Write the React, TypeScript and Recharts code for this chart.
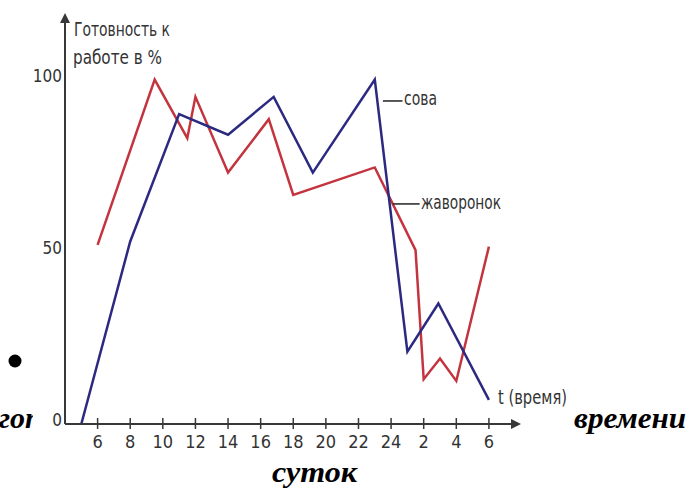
import { LineChart, Line, XAxis, YAxis, ReferenceLine } from "recharts";

// hours of the day; values past 24 are the next morning (26 = 2, 28 = 4, 30 = 6)
const hourTicks = [6, 8, 10, 12, 14, 16, 18, 20, 22, 24, 26, 28, 30];
const valueTicks = [0, 50, 100];

// "жаворонок" (red)
const larkHours = [6, 9.5, 11.5, 12, 14, 16.5, 18, 23, 25.5, 26, 27, 28, 30];
const larkValues = [52, 100, 83, 95, 73, 88.5, 66.5, 74.5, 50.5, 13, 19, 12.5, 51.5];

// "сова" (blue)
const owlHours = [5, 8, 11, 14, 16.8, 19.2, 23, 25, 26.9, 30];
const owlValues = [0, 53, 90, 84, 95, 73, 100, 21, 35, 7];

const larkData = larkHours.map((h, i) => ({ h, v: larkValues[i] }));
const owlData = owlHours.map((h, i) => ({ h, v: owlValues[i] }));

const AXIS = "#383838";
const TEXT = "#333";
const NARROW = "'Liberation Sans Narrow', 'DejaVu Sans Condensed', 'Liberation Sans', sans-serif";
const SERIF = "'Liberation Serif', 'Times New Roman', serif";

function HourTick({ x, y, payload }: any) {
  const h = payload.value;
  return (
    <g>
      <line x1={x} x2={x} y1={y - 6} y2={y + 5} stroke={AXIS} strokeWidth={1.5} />
      <text x={x} y={y + 24} textAnchor="middle" fontSize={18} fill={TEXT} fontFamily={NARROW}>
        {h > 24 ? h - 24 : h}
      </text>
    </g>
  );
}

function ValueTick({ x, y, payload }: any) {
  return (
    <text x={x - 3} y={y + 2} textAnchor="end" fontSize={17} fill={TEXT} fontFamily={NARROW}>
      {payload.value}
    </text>
  );
}

export default function App() {
  return (
    <div style={{ position: "absolute", left: 0, top: 0, width: 689, height: 490, background: "#fff" }}>
      <LineChart width={689} height={490} margin={{ top: 19, right: 174, bottom: 0, left: 0 }}>
        <defs>
          <marker id="axisArrow" viewBox="0 0 10 10" refX="4" refY="5" markerWidth="6" markerHeight="5"
            orient="auto-start-reverse" markerUnits="strokeWidth">
            <path d="M0,0 L10,5 L0,10 z" fill={AXIS} />
          </marker>
          <clipPath id="cutLeft">
            <rect x={0} y={380} width={33} height={60} />
          </clipPath>
        </defs>
        <XAxis
          type="number"
          dataKey="h"
          domain={[4, 31.6]}
          ticks={hourTicks}
          height={66}
          tickLine={false}
          tickSize={0}
          tickMargin={0}
          tick={<HourTick />}
          axisLine={{ stroke: AXIS, strokeWidth: 2, markerEnd: "url(#axisArrow)" }}
          allowDataOverflow
        />
        <YAxis
          type="number"
          domain={[0, 117.6]}
          ticks={valueTicks}
          width={65}
          tickLine={false}
          tickSize={0}
          tickMargin={0}
          tick={<ValueTick />}
          axisLine={{ stroke: AXIS, strokeWidth: 2, markerStart: "url(#axisArrow)" }}
          allowDataOverflow
        />
        <Line data={larkData} dataKey="v" type="linear" stroke="#c4343f" strokeWidth={2.5} dot={false} isAnimationActive={false} />
        <Line data={owlData} dataKey="v" type="linear" stroke="#2b2a80" strokeWidth={2.5} dot={false} isAnimationActive={false} />
        <ReferenceLine segment={[{ x: 23.5, y: 93.8 }, { x: 24.7, y: 93.8 }]} stroke="#222" strokeWidth={1.5} ifOverflow="visible" />
        <ReferenceLine segment={[{ x: 24.1, y: 63.9 }, { x: 25.75, y: 63.9 }]} stroke="#222" strokeWidth={1.5} ifOverflow="visible" />

        <text x={74} y={36} fontSize={20} fill={TEXT} fontFamily={NARROW} textLength={96} lengthAdjust="spacingAndGlyphs">Готовность к</text>
        <text x={73} y={64} fontSize={20} fill={TEXT} fontFamily={NARROW} textLength={89} lengthAdjust="spacingAndGlyphs">работе в %</text>
        <text x={404} y={105} fontSize={19} fill={TEXT} fontFamily={NARROW} textLength={33} lengthAdjust="spacingAndGlyphs">сова</text>
        <text x={421} y={209} fontSize={19} fill={TEXT} fontFamily={NARROW} textLength={80} lengthAdjust="spacingAndGlyphs">жаворонок</text>
        <text x={498} y={404} fontSize={19} fill={TEXT} fontFamily={NARROW} textLength={69} lengthAdjust="spacingAndGlyphs">t (время)</text>

        <circle cx={15} cy={361} r={6.5} fill="#000" />
        <text x={-1} y={428} fontSize={30} fontWeight="bold" fontStyle="italic" fontFamily={SERIF} clipPath="url(#cutLeft)">гот</text>
        <text x={574} y={428} fontSize={30} fontWeight="bold" fontStyle="italic" fontFamily={SERIF} textLength={112} lengthAdjust="spacingAndGlyphs">времени</text>
        <text x={272} y={482} fontSize={29} fontWeight="bold" fontStyle="italic" fontFamily={SERIF} textLength={85} lengthAdjust="spacingAndGlyphs">суток</text>
      </LineChart>
    </div>
  );
}
